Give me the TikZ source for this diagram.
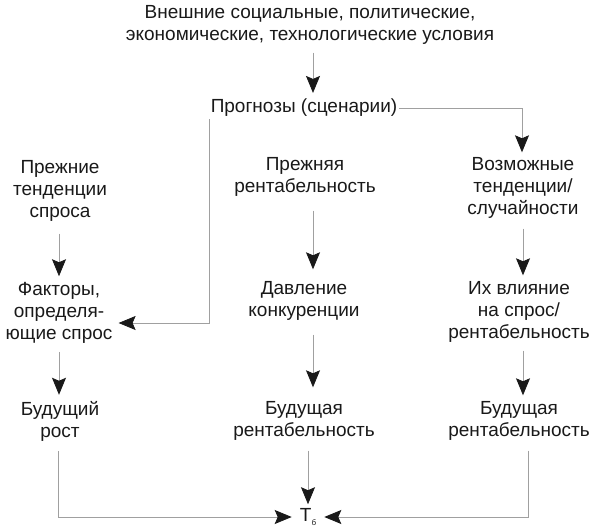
\documentclass[tikz,border=0pt]{standalone}
\usepackage{fontspec}
\setmainfont{Liberation Sans}
\usepackage{tikz}
\usetikzlibrary{arrows.meta,positioning}
\definecolor{lineg}{RGB}{160,160,160}
\definecolor{ink}{RGB}{25,25,25}

\begin{document}
\begin{tikzpicture}[x=1pt,y=-1pt,
  lbl/.style={align=center, text=ink, inner sep=2pt, font=\fontsize{19}{22}\selectfont},
  flow/.style={draw=lineg, line width=0.8pt, -{Stealth[length=17pt,width=14pt,inset=3pt,ink]}}]
 \useasboundingbox (0,0) rectangle (600,532);
% nodes
 \node[lbl] (ext) at (310,25) {Внешние социальные, политические,\\экономические, технологические условия};%
 \node[lbl] (prog) at (304,108) {Прогнозы (сценарии)};%

 \node[lbl] (dem0) at (60,191) {Прежние\\тенденции\\спроса};%
 \node[lbl] (fact) at (59,313) {Факторы,\\определя-\\ющие спрос};%
 \node[lbl] (grow) at (60,421) {Будущий\\рост};%

 \node[lbl] (prof0) at (305,177) {Прежняя\\рентабельность};%
 \node[lbl] (press) at (304,301) {Давление\\конкуренции};%
 \node[lbl] (prof1) at (304,421) {Будущая\\рентабельность};%

 \node[lbl] (poss) at (523,188) {Возможные\\тенденции/\\случайности};%
 \node[lbl] (infl) at (519,312) {Их влияние\\на спрос/\\рентабельность};%
 \node[lbl] (prof2) at (519,421) {Будущая\\рентабельность};%

 \node[lbl] (tb) at (308,517) {Т\raisebox{-4pt}{\fontsize{8}{8}\selectfont б}};%

% edges
 \draw[flow, shorten <=6pt, shorten >=4pt] (ext.south -| 313,0) -- (prog.north -| 313,0);
 \draw[flow, shorten >=3pt] (prog.east) -| (poss.north -| 522,0);
 \draw[flow, shorten >=4pt] ([xshift=1pt]prog.south west) |- ([yshift=-10pt]fact.east);

 \draw[flow, shorten <=10pt, shorten >=4pt] (dem0.south -| 59,0) -- (fact.north -| 59,0);
 \draw[flow, shorten <=6pt, shorten >=4pt] (fact.south -| 59,0) -- (grow.north -| 59,0);

 \draw[flow, shorten <=12pt, shorten >=10pt] (prof0.south -| 313,0) -- (press.north -| 313,0);
 \draw[flow, shorten <=12pt, shorten >=12pt] (press.south -| 313,0) -- (prof1.north -| 313,0);
 \draw[flow, shorten <=8pt, shorten >=2pt] (prof1.south -| 308,0) -- (tb.north);

 \draw[flow, shorten <=8pt, shorten >=4pt] (poss.south -| 523,0) -- (infl.north -| 523,0);
 \draw[flow, shorten <=6pt, shorten >=4pt] (infl.south -| 523,0) -- (prof2.north -| 523,0);

 \draw[flow, shorten <=8pt, shorten >=6pt] (grow.south -| 58,0) |- (tb.west);
 \draw[flow, shorten <=8pt, shorten >=6pt] (prof2.south -| 528,0) |- (tb.east);
\end{tikzpicture}
\end{document}
